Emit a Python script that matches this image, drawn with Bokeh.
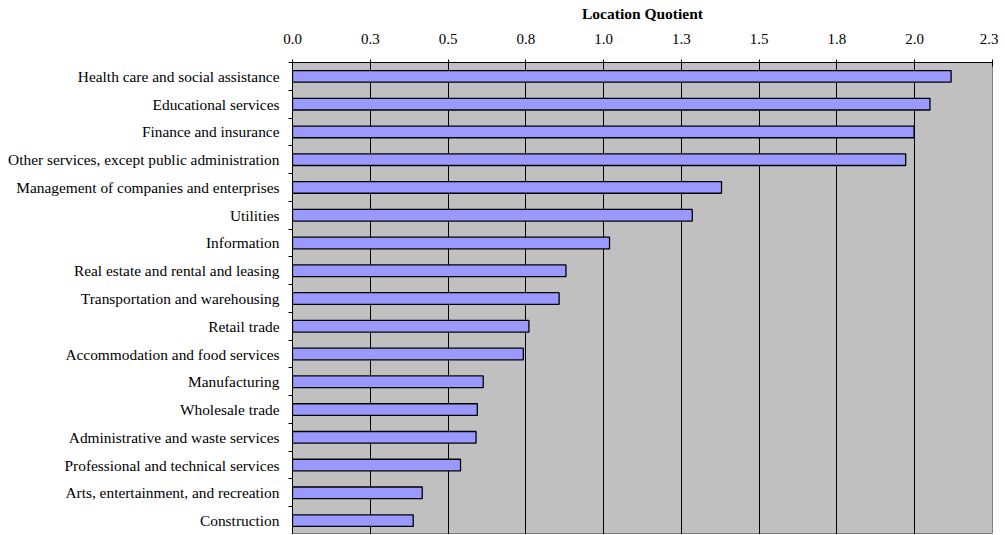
from bokeh.plotting import figure
from bokeh.models import Range1d, FixedTicker, ColumnDataSource, LinearAxis, Grid
from bokeh.embed import file_html
from bokeh.resources import INLINE

industries = [
    "Health care and social assistance",
    "Educational services",
    "Finance and insurance",
    "Other services, except public administration",
    "Management of companies and enterprises",
    "Utilities",
    "Information",
    "Real estate and rental and leasing",
    "Transportation and warehousing",
    "Retail trade",
    "Accommodation and food services",
    "Manufacturing",
    "Wholesale trade",
    "Administrative and waste services",
    "Professional and technical services",
    "Arts, entertainment, and recreation",
    "Construction",
]
location_quotient = [2.117, 2.049, 1.998, 1.971, 1.379, 1.285, 1.019, 0.879, 0.857,
                     0.760, 0.742, 0.613, 0.594, 0.590, 0.540, 0.417, 0.388]
x_ticks = [0.0, 0.25, 0.5, 0.75, 1.0, 1.25, 1.5, 1.75, 2.0, 2.25]
x_tick_labels = ["0.0", "0.3", "0.5", "0.8", "1.0", "1.3", "1.5", "1.8", "2.0", "2.3"]
axis_title = "Location Quotient"

n = len(industries)
y_pos = [n - i - 0.5 for i in range(n)]
source = ColumnDataSource(dict(y=y_pos, v=location_quotient, name=industries))

FONT = "Liberation Serif"

p = figure(width=998, height=534, output_backend="svg", toolbar_location=None,
           x_range=Range1d(0, 2.25), y_range=Range1d(0, n),
           x_axis_location=None, y_axis_location=None,
           min_border_left=292, min_border_top=62, min_border_right=6,
           min_border_bottom=0)
p.background_fill_color = "#C0C0C0"
p.border_fill_color = "white"
p.outline_line_color = "#808080"

p.hbar(y="y", right="v", left=0, height=0.42, source=source,
       fill_color="#9999FF", line_color="black", line_width=1.3)

# top axis
xa = LinearAxis(ticker=FixedTicker(ticks=x_ticks))
xa.major_label_overrides = {t: l for t, l in zip(x_ticks, x_tick_labels)}
xa.axis_label = axis_title
xa.axis_label_text_font = FONT
xa.axis_label_text_font_style = "bold"
xa.axis_label_text_font_size = "15.5px"
xa.axis_label_text_color = "black"
xa.axis_label_standoff = 9
xa.major_label_text_font = FONT
xa.major_label_text_font_size = "15px"
xa.major_label_text_color = "black"
xa.major_label_standoff = 16
xa.major_tick_in = 4
xa.major_tick_out = 3
xa.minor_tick_out = 0
xa.minor_tick_in = 0
xa.axis_line_color = "black"
xa.major_tick_line_color = "black"
p.add_layout(xa, "above")

# left axis: labels at centers, ticks at category boundaries
ya = LinearAxis(ticker=FixedTicker(ticks=y_pos, minor_ticks=list(range(0, n + 1))))
ya.major_label_overrides = {y: name for y, name in zip(y_pos, industries)}
ya.major_label_text_font = FONT
ya.major_label_text_font_size = "15.4px"
ya.major_label_text_color = "black"
ya.major_tick_out = 0
ya.major_tick_in = 0
ya.minor_tick_out = 4
ya.minor_tick_in = 0
ya.minor_tick_line_color = "black"
ya.major_label_standoff = 9
ya.axis_line_color = "black"
p.add_layout(ya, "left")

p.xgrid.grid_line_color = None
p.ygrid.grid_line_color = None
g = Grid(dimension=0, ticker=xa.ticker, grid_line_color="black", grid_line_width=1)
p.add_layout(g)

open("out.html", "w").write(file_html(p, INLINE))
